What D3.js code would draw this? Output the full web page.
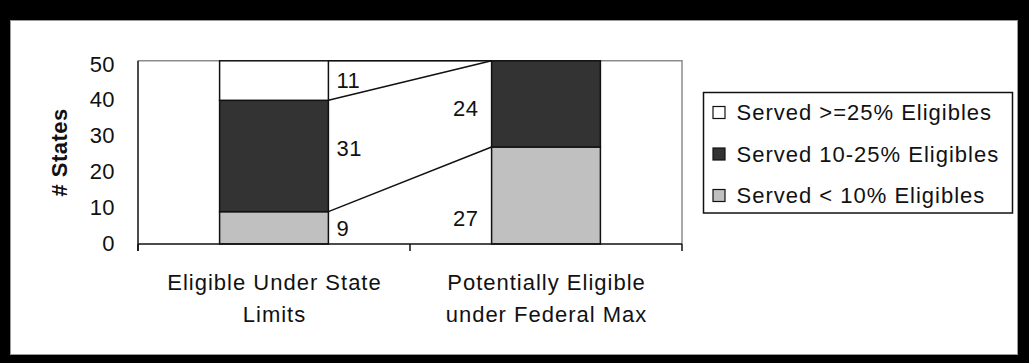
<!DOCTYPE html>
<html>
<head>
<meta charset="utf-8">
<script src="https://cdn.jsdelivr.net/npm/d3@7"></script>
<style>
  html, body { margin: 0; padding: 0; background: #000; }
  svg { display: block; }
  text { font-family: "Liberation Sans", Arial, sans-serif; fill: #111; }
</style>
</head>
<body>
<svg id="chart" width="1029" height="363"></svg>
<script>
// Categories (each label split into its display lines)
const categories = ["Eligible Under State Limits", "Potentially Eligible under Federal Max"];
const categoryLines = [["Eligible Under State", "Limits"], ["Potentially Eligible", "under Federal Max"]];

// Number of states in each service band, stacked bottom to top
const servedUnder10 = [9, 27];
const served10to25 = [31, 24];
const served25plus = [11, 0];

const seriesNames = ["Served < 10% Eligibles", "Served 10-25% Eligibles", "Served >=25% Eligibles"];
const yTicks = [0, 10, 20, 30, 40, 50];
const yTitle = "# States";

// Vertical nudges (in states) for data labels that sit off-centre
const labelNudge = { "0-1": -6.3, "1-0": 2.2, "1-1": -1.1 };

const colors = ["#c0c0c0", "#333333", "#ffffff"];
const FONT = 22;

const svg = d3.select("#chart");

// Page frame
svg.append("rect").attr("x", 0).attr("y", 0).attr("width", 1029).attr("height", 363).attr("fill", "#000");
svg.append("rect").attr("x", 10.5).attr("y", 20.5).attr("width", 1007).attr("height", 334)
  .attr("fill", "#fff").attr("stroke", "#9a9a9a").attr("stroke-width", 1);

const plot = { left: 138, right: 682, top: 60.8, bottom: 244 };

const rows = categories.map((c, i) => ({
  cat: c, s0: servedUnder10[i], s1: served10to25[i], s2: served25plus[i]
}));
const stack = d3.stack().keys(["s0", "s1", "s2"]);
const stacked = stack(rows);

const x = d3.scaleBand().domain(categories).range([plot.left, plot.right])
  .paddingInner(0.6).paddingOuter(0.3);
const y = d3.scaleLinear().domain([0, 51]).range([plot.bottom, plot.top]);

// Plot area border (top and right)
svg.append("path")
  .attr("d", `M${plot.left},${plot.top}H${plot.right}V${plot.bottom}`)
  .attr("fill", "none").attr("stroke", "#8c8c8c").attr("stroke-width", 1.5);

// Series lines joining the stacked segment boundaries
const b0 = x(categories[0]) + x.bandwidth();
const b1 = x(categories[1]);
stacked.forEach(layer => {
  svg.append("line")
    .attr("x1", b0).attr("y1", y(layer[0][1]))
    .attr("x2", b1).attr("y2", y(layer[1][1]))
    .attr("stroke", "#111").attr("stroke-width", 1.5);
});

// Bars
stacked.forEach((layer, si) => {
  svg.append("g").selectAll("rect")
    .data(layer.filter(d => d[1] - d[0] > 0))
    .join("rect")
    .attr("x", d => x(d.data.cat))
    .attr("y", d => y(d[1]))
    .attr("width", x.bandwidth())
    .attr("height", d => y(d[0]) - y(d[1]))
    .attr("fill", colors[si])
    .attr("stroke", "#111")
    .attr("stroke-width", 1.5);
});

// Data labels: right of the first bar, left of the second bar
stacked.forEach((layer, si) => {
  layer.forEach((d, ci) => {
    const v = d[1] - d[0];
    if (v <= 0) return;
    const nudge = labelNudge[si + "-" + ci] || 0;
    const cy = y((d[0] + d[1]) / 2 + nudge);
    const t = svg.append("text")
      .attr("y", cy).attr("dy", "0.36em")
      .attr("font-size", FONT).attr("letter-spacing", "0.6px")
      .text(v);
    if (ci === 0) {
      t.attr("x", x(d.data.cat) + x.bandwidth() + 8).attr("text-anchor", "start");
    } else {
      t.attr("x", x(d.data.cat) - 13).attr("text-anchor", "end");
    }
  });
});

// Y axis
const yAxis = svg.append("g").attr("transform", `translate(${plot.left},0)`)
  .call(d3.axisLeft(y).tickValues(yTicks).tickSize(0).tickPadding(23).tickFormat(d3.format("d")));
yAxis.select(".domain").remove();
yAxis.selectAll("text")
  .attr("font-size", FONT).attr("letter-spacing", "0.4px")
  .attr("dy", "0.3em")
  .style("font-family", "'Liberation Sans', Arial, sans-serif").attr("fill", "#111");
svg.append("line").attr("x1", plot.left).attr("x2", plot.left)
  .attr("y1", plot.top).attr("y2", plot.bottom + 7)
  .attr("stroke", "#111").attr("stroke-width", 1.5);

// X axis line with boundary ticks
svg.append("line").attr("x1", plot.left).attr("x2", plot.right)
  .attr("y1", plot.bottom).attr("y2", plot.bottom)
  .attr("stroke", "#111").attr("stroke-width", 1.5);
const boundaries = [plot.left, (x(categories[0]) + x.bandwidth() / 2 + x(categories[1]) + x.bandwidth() / 2) / 2, plot.right];
svg.append("g").selectAll("line").data(boundaries).join("line")
  .attr("x1", d => d).attr("x2", d => d)
  .attr("y1", plot.bottom).attr("y2", plot.bottom + 7)
  .attr("stroke", "#111").attr("stroke-width", 1.5);

// Category labels
categories.forEach((c, i) => {
  const t = svg.append("text")
    .attr("x", x(c) + x.bandwidth() / 2)
    .attr("text-anchor", "middle")
    .attr("font-size", FONT).attr("letter-spacing", "1px");
  categoryLines[i].forEach((line, li) => {
    t.append("tspan").attr("x", x(c) + x.bandwidth() / 2 + 0.5).attr("y", 289.5 + li * 32).text(line);
  });
});

// Y axis title
svg.append("text")
  .attr("transform", `translate(66.5,${(plot.top + plot.bottom) / 2}) rotate(-90)`)
  .attr("text-anchor", "middle")
  .attr("font-size", FONT).attr("font-weight", "bold").attr("letter-spacing", "0.5px")
  .text(yTitle);

// Legend
const legend = svg.append("g");
legend.append("rect").attr("x", 703.5).attr("y", 92.5).attr("width", 309).attr("height", 120.5)
  .attr("fill", "#fff").attr("stroke", "#111").attr("stroke-width", 1.5);
const legendOrder = [2, 1, 0];
legendOrder.forEach((si, r) => {
  const cy = 112.5 + r * 41.5;
  legend.append("rect").attr("x", 713).attr("y", cy - 6).attr("width", 12).attr("height", 12)
    .attr("fill", colors[si]).attr("stroke", "#111").attr("stroke-width", 1.2);
  legend.append("text").attr("x", 736.5).attr("y", cy).attr("dy", "0.36em")
    .attr("font-size", FONT).attr("letter-spacing", "1px")
    .text(seriesNames[si]);
});
</script>
</body>
</html>
